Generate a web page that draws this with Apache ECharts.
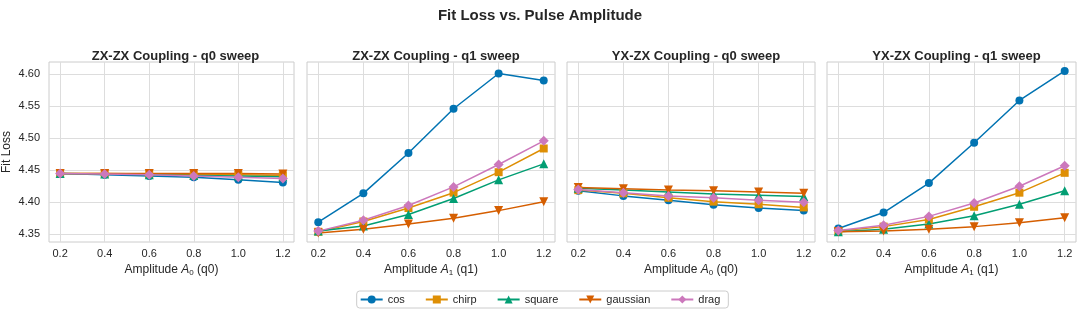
<!DOCTYPE html>
<html><head><meta charset="utf-8">
<script src="https://cdn.jsdelivr.net/npm/echarts@6/dist/echarts.min.js"></script>
<style>html,body{margin:0;padding:0;background:#fff}#c{width:1080px;height:313px}</style>
</head><body><div id="c"></div><script>
const amplitudes = [0.2, 0.4, 0.6, 0.8, 1.0, 1.2];
const pulseNames = ['cos', 'chirp', 'square', 'gaussian', 'drag'];
const panelTitles = ['ZX-ZX Coupling - q0 sweep', 'ZX-ZX Coupling - q1 sweep', 'YX-ZX Coupling - q0 sweep', 'YX-ZX Coupling - q1 sweep'];
const panelSubscripts = ['0', '1', '0', '1'];
const panelQubits = ['q0', 'q1', 'q0', 'q1'];
const mainTitle = 'Fit Loss vs. Pulse Amplitude';
const yAxisTitle = 'Fit Loss';
const xTicks = [0.2, 0.4, 0.6, 0.8, 1.0, 1.2];
const yTicks = [4.35, 4.40, 4.45, 4.50, 4.55, 4.60];

// ZX-ZX q0 sweep
const zxq0_cos      = [4.445, 4.443, 4.441, 4.439, 4.435, 4.431];
const zxq0_chirp    = [4.445, 4.445, 4.444, 4.443, 4.443, 4.442];
const zxq0_square   = [4.445, 4.444, 4.443, 4.442, 4.441, 4.440];
const zxq0_gaussian = [4.445, 4.445, 4.445, 4.445, 4.445, 4.444];
const zxq0_drag     = [4.445, 4.444, 4.443, 4.441, 4.439, 4.437];
// ZX-ZX q1 sweep
const zxq1_cos      = [4.369, 4.414, 4.477, 4.546, 4.601, 4.590];
const zxq1_chirp    = [4.354, 4.370, 4.391, 4.415, 4.447, 4.484];
const zxq1_square   = [4.355, 4.363, 4.381, 4.406, 4.435, 4.460];
const zxq1_gaussian = [4.352, 4.358, 4.366, 4.375, 4.387, 4.401];
const zxq1_drag     = [4.355, 4.372, 4.395, 4.424, 4.459, 4.496];
// YX-ZX q0 sweep
const yxq0_cos      = [4.418, 4.410, 4.403, 4.396, 4.391, 4.387];
const yxq0_chirp    = [4.419, 4.414, 4.407, 4.401, 4.397, 4.392];
const yxq0_square   = [4.422, 4.419, 4.416, 4.413, 4.411, 4.409];
const yxq0_gaussian = [4.423, 4.421, 4.419, 4.418, 4.416, 4.414];
const yxq0_drag     = [4.420, 4.415, 4.410, 4.407, 4.403, 4.400];
// YX-ZX q1 sweep
const yxq1_cos      = [4.359, 4.384, 4.430, 4.493, 4.559, 4.605];
const yxq1_chirp    = [4.355, 4.362, 4.373, 4.393, 4.415, 4.446];
const yxq1_square   = [4.354, 4.358, 4.366, 4.379, 4.397, 4.418];
const yxq1_gaussian = [4.354, 4.355, 4.358, 4.362, 4.368, 4.376];
const yxq1_drag     = [4.356, 4.364, 4.378, 4.399, 4.425, 4.457];

const panelData = [
  [zxq0_cos, zxq0_chirp, zxq0_square, zxq0_gaussian, zxq0_drag],
  [zxq1_cos, zxq1_chirp, zxq1_square, zxq1_gaussian, zxq1_drag],
  [yxq0_cos, yxq0_chirp, yxq0_square, yxq0_gaussian, yxq0_drag],
  [yxq1_cos, yxq1_chirp, yxq1_square, yxq1_gaussian, yxq1_drag]
];

const colors = ['#0173b2', '#de8f05', '#029e73', '#d55e00', '#cc78bc'];
const symbols = ['circle', 'rect', 'triangle', 'triangle', 'diamond'];
const symbolRot = [0, 0, 0, 180, 0];
const symbolSizes = [8, 8, 9, 9, 10];
const FONT = '"Liberation Sans", Arial, sans-serif';
const TXT = '#262626';

const gridLefts = [47, 307, 567, 827];
const gridWidths = [247, 248, 248, 249];
const gridTop = 62, gridHeight = 180;

const grids = [], xAxes = [], yAxes = [], series = [], titles = [];
titles.push({ text: mainTitle, left: 'center', top: 3,
  textStyle: { fontFamily: FONT, fontSize: 15, fontWeight: 'bold', color: TXT } });

for (let p = 0; p < 4; p++) {
  grids.push({ left: gridLefts[p], top: gridTop, width: gridWidths[p], height: gridHeight,
    show: true, borderColor: '#cccccc', borderWidth: 1, backgroundColor: '#fff' });
  titles.push({ text: panelTitles[p], left: gridLefts[p] + gridWidths[p] / 2, top: 45, textAlign: 'center',
    textStyle: { fontFamily: FONT, fontSize: 13, fontWeight: 'bold', color: TXT } });
  xAxes.push({
    type: 'value', gridIndex: p, min: 0.15, max: 1.25,
    name: '{n|Amplitude }{i|A}{s|' + panelSubscripts[p] + '}{n| (' + panelQubits[p] + ')}',
    nameLocation: 'middle', nameGap: 19,
    nameTextStyle: { rich: {
      n: { fontFamily: FONT, fontSize: 12, color: TXT },
      i: { fontFamily: FONT, fontSize: 12, fontStyle: 'italic', color: TXT },
      s: { fontFamily: FONT, fontSize: 8, color: TXT, verticalAlign: 'bottom', padding: [6, 0, 0, 0] }
    } },
    axisLine: { show: false },
    axisTick: { show: false, customValues: xTicks },
    axisLabel: { customValues: xTicks, fontFamily: FONT, fontSize: 11, color: TXT, margin: 6,
      formatter: v => v.toFixed(1) },
    splitLine: { show: true, lineStyle: { color: '#dddddd', width: 1 } }
  });
  yAxes.push({
    type: 'value', gridIndex: p, min: 4.338, max: 4.619,
    name: p === 0 ? yAxisTitle : '', nameLocation: 'middle', nameGap: 36,
    nameTextStyle: { fontFamily: FONT, fontSize: 12, color: TXT },
    axisLine: { show: false },
    axisTick: { show: false, customValues: yTicks },
    axisLabel: { show: p === 0, customValues: yTicks, fontFamily: FONT, fontSize: 11, color: TXT, margin: 9,
      formatter: v => v.toFixed(2) },
    splitLine: { show: true, lineStyle: { color: '#dddddd', width: 1 } }
  });
  for (let s = 0; s < 5; s++) {
    series.push({
      type: 'line', name: pulseNames[s], xAxisIndex: p, yAxisIndex: p,
      data: amplitudes.map((a, i) => [a, panelData[p][s][i]]),
      symbol: symbols[s], symbolRotate: symbolRot[s], symbolSize: symbolSizes[s],
      showAllSymbol: true,
      itemStyle: { color: colors[s] },
      lineStyle: { color: colors[s], width: 1.5 },
      emphasis: { disabled: true }, animation: false
    });
  }
}

const chart = echarts.init(document.getElementById('c'), null, { renderer: 'canvas' });
chart.setOption({
  animation: false,
  backgroundColor: '#ffffff',
  title: titles,
  grid: grids, xAxis: xAxes, yAxis: yAxes, series: series,
  legend: {
    data: pulseNames, bottom: 5, left: 'center',
    borderColor: '#cccccc', borderWidth: 1, borderRadius: 3, padding: [3, 8, 3, 3],
    itemWidth: 22, itemHeight: 10, itemGap: 20,
    textStyle: { fontFamily: FONT, fontSize: 11, color: TXT }
  }
});
</script></body></html>
